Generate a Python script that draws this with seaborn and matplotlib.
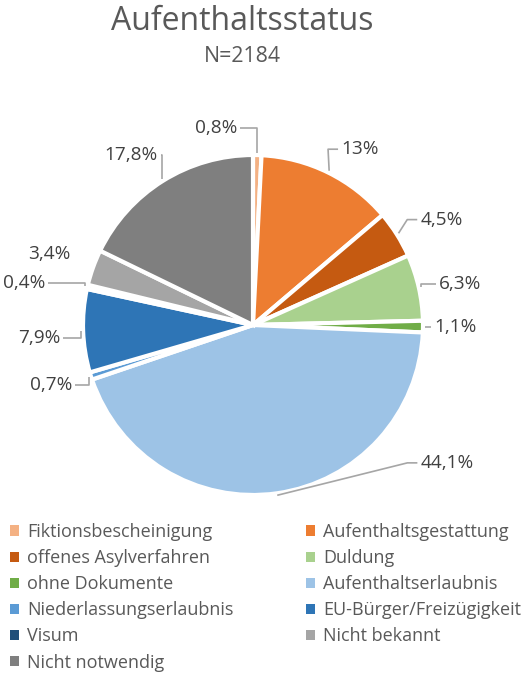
import numpy as np
import matplotlib
matplotlib.use("Agg")
import matplotlib.pyplot as plt
from matplotlib.patches import Patch
import seaborn as sns

sns.set_theme(style="white")
plt.rcParams["font.family"] = ["Open Sans", "DejaVu Sans"]

# data
categories = [
    "Fiktionsbescheinigung", "Aufenthaltsgestattung", "offenes Asylverfahren",
    "Duldung", "ohne Dokumente", "Aufenthaltserlaubnis", "Niederlassungserlaubnis",
    "EU-Bürger/Freizügigkeit", "Visum", "Nicht bekannt", "Nicht notwendig",
]
shares = [0.8, 13.0, 4.5, 6.3, 1.1, 44.1, 0.7, 7.9, 0.4, 3.4, 17.8]
value_labels = ["0,8%", "13%", "4,5%", "6,3%", "1,1%", "44,1%", "0,7%",
                "7,9%", "0,4%", "3,4%", "17,8%"]
colors = ["#F4B183", "#ED7D31", "#C55A11", "#A9D18E", "#70AD47", "#9DC3E6",
          "#5B9BD5", "#2E75B6", "#1F4E79", "#A5A5A5", "#7F7F7F"]
n_total = 2184

# label placement: angle shift (deg, + = counter-clockwise on screen),
# radius factor, leader style ("elbow", "diag" or None)
label_angle_shift = [12, -5, -3, -1.5, 0, 46.5, -0.8, 1.5, 2.5, 0.5, 3.5]
label_radius = [1.18, 1.21, 1.27, 1.24, 1.19, 1.40, 1.24, 1.26, 1.37, 1.27, 1.23]
leader = ["elbow", "diag", "diag", "elbow", "elbow", "diag", "elbow", "elbow",
          "elbow", None, "elbow"]

W, H = 529, 675
CX, CY, R = 253, 325, 170

fig = plt.figure(figsize=(W / 100, H / 100), dpi=100)
ax = fig.add_axes([0, 0, 1, 1])

# y axis is inverted, so counterclock=True draws clockwise on screen
wedges, _ = ax.pie(
    shares, colors=colors, startangle=-90, counterclock=True,
    center=(CX, CY), radius=R, frame=True,
    wedgeprops=dict(edgecolor="white", linewidth=3),
)
ax.set_xlim(0, W)
ax.set_ylim(H, 0)
ax.axis("off")

fig.canvas.draw()
renderer = fig.canvas.get_renderer()
inv = ax.transData.inverted()

for w, lab, dth, rf, style in zip(wedges, value_labels, label_angle_shift,
                                  label_radius, leader):
    mid = np.deg2rad((w.theta1 + w.theta2) / 2)
    la = mid - np.deg2rad(dth)
    lx, ly = CX + R * rf * np.cos(la), CY + R * rf * np.sin(la)
    t = ax.text(lx, ly, lab, ha="center", va="center", fontsize=13.7,
                color="#404040")
    if style is None:
        continue
    bb = t.get_window_extent(renderer)
    (x0, _), (x1, _) = inv.transform([[bb.x0, bb.y0], [bb.x1, bb.y1]])
    ex, ey = CX + (R + 2) * np.cos(mid), CY + (R + 2) * np.sin(mid)
    if lx > ex:
        side, step = x0 - 3, -10
    else:
        side, step = x1 + 3, 10
    if style == "elbow":
        xs, ys = [side, ex, ex], [ly, ly, ey]
    else:
        xs, ys = [side, side + step, ex], [ly, ly, ey]
    ax.plot(xs, ys, color="#A6A6A6", lw=1.2, solid_capstyle="butt")

fig.text(242 / W, 1 - 22 / H, "Aufenthaltsstatus", ha="center", va="center",
         fontsize=23, color="#595959")
fig.text(242 / W, 1 - 57 / H, f"N={n_total}", ha="center", va="center",
         fontsize=15.3, color="#595959")

handles = [Patch(facecolor=c, edgecolor="none") for c in colors]
order = [0, 2, 4, 6, 8, 10, 1, 3, 5, 7, 9]
leg = fig.legend(
    [handles[i] for i in order], [categories[i] for i in order],
    ncol=2, loc="upper left", bbox_to_anchor=(0.0, 1 - 513 / H),
    frameon=False, fontsize=13, handlelength=0.5, handleheight=0.5,
    handletextpad=0.45, labelspacing=0.45, columnspacing=4.0,
    labelcolor="#595959", borderaxespad=0.15,
)

fig.savefig("out.png", dpi=100)
